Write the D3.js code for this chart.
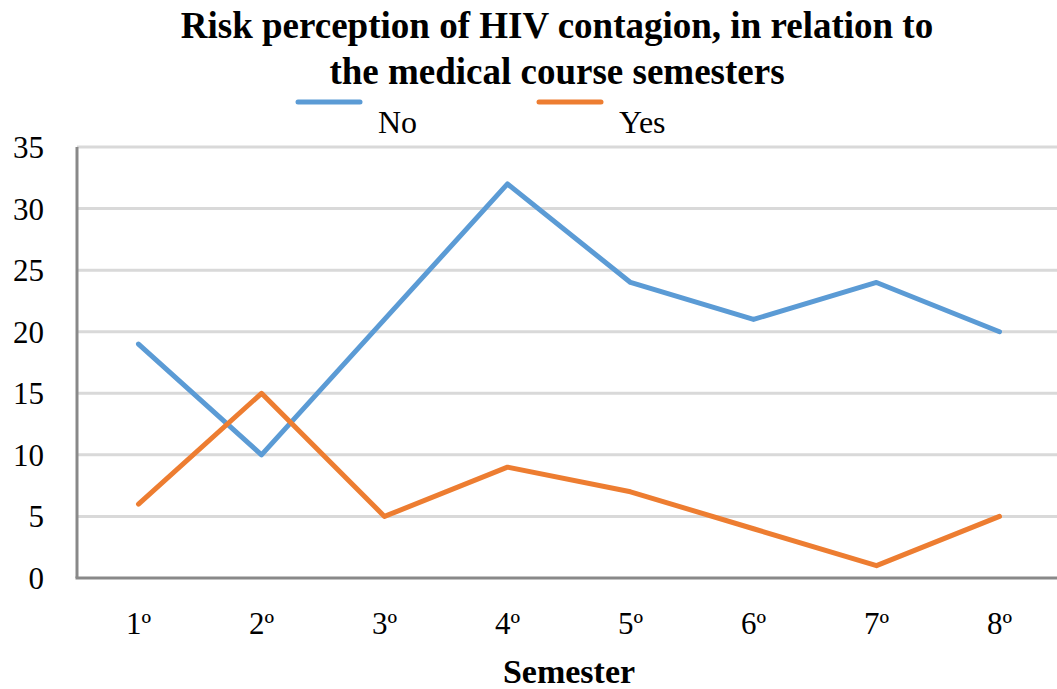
<!DOCTYPE html>
<html>
<head>
<meta charset="utf-8">
<script src="https://cdn.jsdelivr.net/npm/d3@7"></script>
<style>
  body { margin: 0; background: #fff; }
  svg text { font-family: "Liberation Serif", "Times New Roman", serif; fill: #000; }
</style>
</head>
<body>
<div id="chart"></div>
<script>
var semesters = ['1º', '2º', '3º', '4º', '5º', '6º', '7º', '8º']
var noValues = [19, 10, 21, 32, 24, 21, 24, 20]
var yesValues = [6, 15, 5, 9, 7, 4, 1, 5]
var yTicks = [0, 5, 10, 15, 20, 25, 30, 35]

var width = 1057
  , height = 689
  , plotLeft = 77
  , plotTop = 147
  , plotBottom = 578
  , series = [
      { name: 'No', values: noValues, color: '#5b9bd5' },
      { name: 'Yes', values: yesValues, color: '#ed7d31' }
    ]

var svg = d3.select('#chart').append('svg')
  .attr('width', width)
  .attr('height', height)

var x = d3.scaleBand()
  .domain(semesters)
  .range([plotLeft, plotLeft + 8 * 123])

var y = d3.scaleLinear()
  .domain([0, 35])
  .range([plotBottom, plotTop])

// gridlines
svg.selectAll('line.grid').data(yTicks.filter(function(d) { return d > 0 })).enter()
  .append('line')
  .attr('class', 'grid')
  .attr('x1', plotLeft)
  .attr('x2', width)
  .attr('y1', function(d) { return y(d) })
  .attr('y2', function(d) { return y(d) })
  .attr('stroke', '#d9d9d9')
  .attr('stroke-width', 3)

// y axis labels
var yAxis = d3.axisLeft(y).tickValues(yTicks).tickSize(0).tickPadding(33)
svg.append('g')
  .attr('transform', 'translate(' + plotLeft + ',0)')
  .call(yAxis)
  .call(function(g) { g.select('.domain').remove() })
  .selectAll('text')
  .style('font-size', '31px')
  .attr('dy', '0.34em')

// x axis labels
var xAxis = d3.axisBottom(x).tickSize(0).tickPadding(34)
svg.append('g')
  .attr('transform', 'translate(0,' + plotBottom + ')')
  .call(xAxis)
  .call(function(g) { g.select('.domain').remove() })
  .selectAll('text')
  .style('font-size', '31px')

// axis lines
svg.append('line')
  .attr('x1', plotLeft).attr('x2', plotLeft)
  .attr('y1', plotTop).attr('y2', plotBottom)
  .attr('stroke', '#898989').attr('stroke-width', 3)
svg.append('line')
  .attr('x1', plotLeft - 1.5).attr('x2', width)
  .attr('y1', plotBottom).attr('y2', plotBottom)
  .attr('stroke', '#898989').attr('stroke-width', 3)

// lines
var line = d3.line()
  .x(function(d, i) { return x(semesters[i]) + x.bandwidth() / 2 })
  .y(function(d) { return y(d) })

svg.selectAll('path.series').data(series).enter()
  .append('path')
  .attr('class', 'series')
  .attr('d', function(d) { return line(d.values) })
  .attr('fill', 'none')
  .attr('stroke', function(d) { return d.color })
  .attr('stroke-width', 5)
  .attr('stroke-linejoin', 'round')
  .attr('stroke-linecap', 'round')

// title
svg.append('text')
  .attr('x', 557).attr('y', 38)
  .attr('text-anchor', 'middle')
  .style('font-size', '37px').style('font-weight', 'bold')
  .text('Risk perception of HIV contagion, in relation to')
svg.append('text')
  .attr('x', 557).attr('y', 84)
  .attr('text-anchor', 'middle')
  .style('font-size', '37px').style('font-weight', 'bold')
  .text('the medical course semesters')

// legend
var legend = svg.selectAll('g.legend').data(series).enter()
  .append('g')
  .attr('class', 'legend')
  .attr('transform', function(d, i) { return 'translate(' + (298 + i * 241) + ',0)' })
legend.append('line')
  .attr('x1', 0).attr('x2', 62)
  .attr('y1', 102).attr('y2', 102)
  .attr('stroke', function(d) { return d.color })
  .attr('stroke-width', 5)
  .attr('stroke-linecap', 'round')
legend.append('text')
  .attr('x', 80).attr('y', 133)
  .style('font-size', '32px')
  .text(function(d) { return d.name })

// x title
svg.append('text')
  .attr('x', 569).attr('y', 683)
  .attr('text-anchor', 'middle')
  .style('font-size', '34px').style('font-weight', 'bold')
  .text('Semester')
</script>
</body>
</html>
